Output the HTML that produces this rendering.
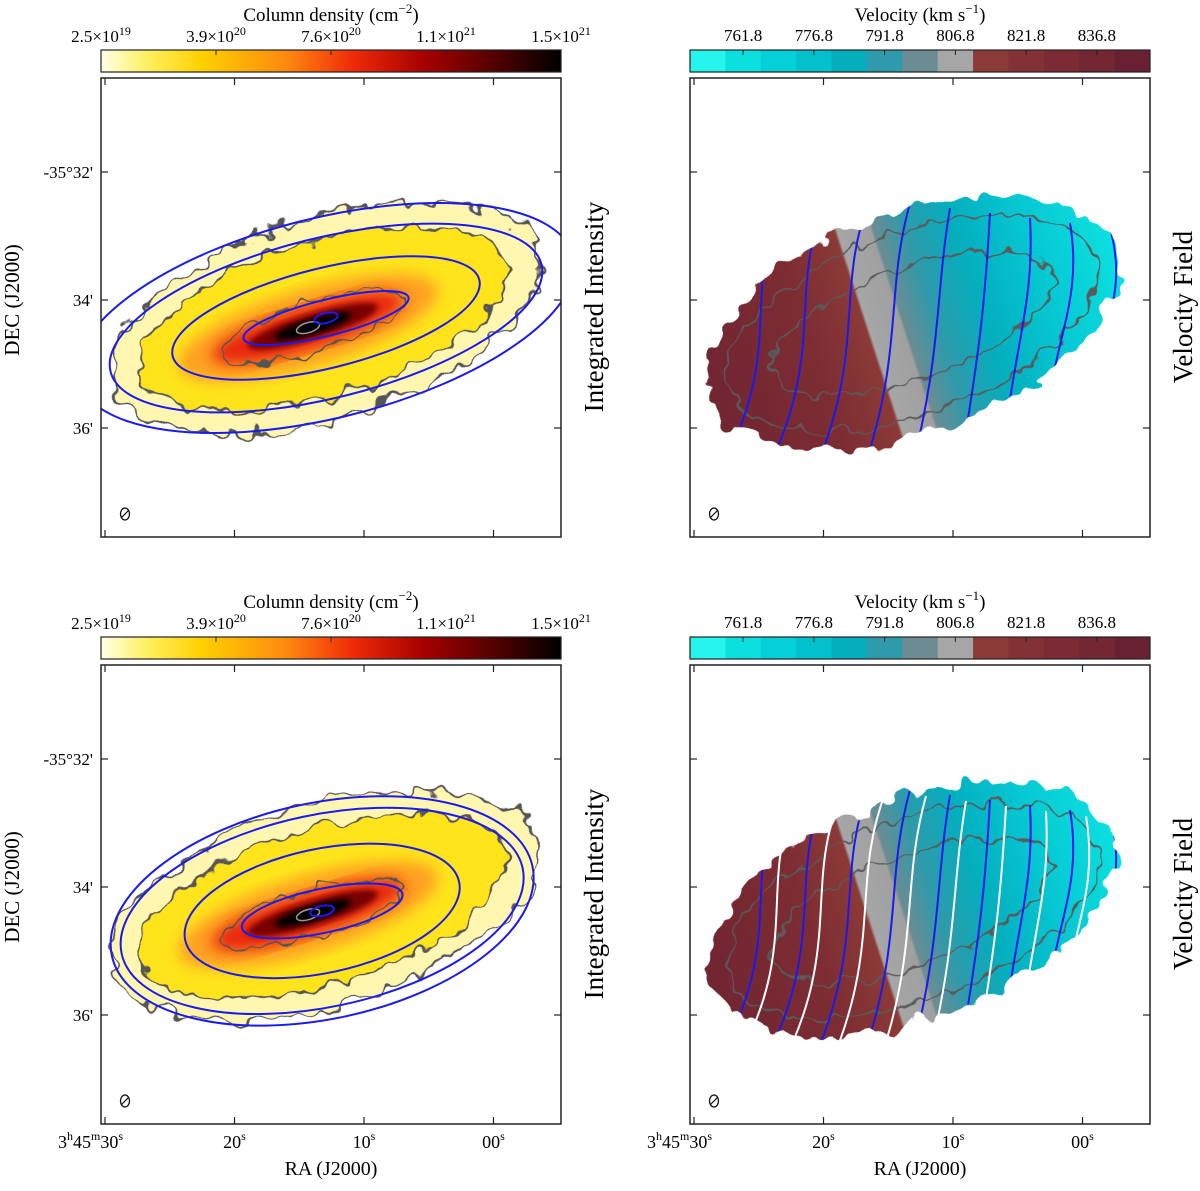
<!DOCTYPE html>
<html><head><meta charset="utf-8"><style>
html,body{margin:0;padding:0;background:#fff;overflow:hidden;width:1200px;height:1191px;}
svg{display:block;font-family:"Liberation Serif",serif;overflow:hidden;}
</style></head><body>
<svg id="fig" width="1200" height="1191" viewBox="0 0 1200 1191" xmlns="http://www.w3.org/2000/svg">
<defs>
<linearGradient id="densGrad" x1="0" x2="1" y1="0" y2="0">
<stop offset="0" stop-color="#ffffe8"/><stop offset="0.1" stop-color="#fff060"/><stop offset="0.22" stop-color="#ffd000"/>
<stop offset="0.4" stop-color="#ff8a10"/><stop offset="0.55" stop-color="#ee2a08"/><stop offset="0.7" stop-color="#a80000"/>
<stop offset="0.85" stop-color="#560000"/><stop offset="1" stop-color="#000"/></linearGradient>
<filter id="rough" x="-20%" y="-30%" width="140%" height="160%"><feTurbulence type="fractalNoise" baseFrequency="0.045" numOctaves="2" seed="4" result="n"/><feDisplacementMap in="SourceGraphic" in2="n" scale="30" xChannelSelector="R" yChannelSelector="G"/></filter>
<filter id="rough2" x="-20%" y="-30%" width="140%" height="160%"><feTurbulence type="fractalNoise" baseFrequency="0.05" numOctaves="2" seed="9" result="n"/><feDisplacementMap in="SourceGraphic" in2="n" scale="22" xChannelSelector="R" yChannelSelector="G"/></filter>
<filter id="blur6"><feGaussianBlur stdDeviation="7"/></filter>
<filter id="blur3"><feGaussianBlur stdDeviation="3"/></filter>
<linearGradient id="velGrad" x1="0" x2="1" y1="0" y2="0">
<stop offset="0" stop-color="#6a2230"/><stop offset="0.3" stop-color="#7d2c33"/><stop offset="0.4" stop-color="#8b3a37"/>
<stop offset="0.405" stop-color="#a6a6a6"/><stop offset="0.46" stop-color="#a0a0a0"/><stop offset="0.465" stop-color="#6b8c93"/>
<stop offset="0.52" stop-color="#2e9aab"/><stop offset="0.6" stop-color="#04aebd"/><stop offset="0.72" stop-color="#06c8d3"/>
<stop offset="0.85" stop-color="#0ce0df"/><stop offset="1" stop-color="#25f0ea"/></linearGradient>
</defs>
<g id="root"></g>
</svg>
<script>
const NS='http://www.w3.org/2000/svg';
const densLabels=['2.5×10','3.9×10','7.6×10','1.1×10','1.5×10'];
const densExp=['19','20','20','21','21'];
const velLabels=['761.8','776.8','791.8','806.8','821.8','836.8'];
const velColors=['#25f5ec','#0ce0df','#06d0d7','#03c1cc','#04aebd','#2e9aab','#6b8c93','#a6a6a6','#8b3a37','#833134','#7c2a33','#742633','#6a2033'];
const raLabels=['30','20','10','00'];
const decLabels=['-35°32\'','34\'','36\''];
const root=document.getElementById('root');
function el(tag,attrs,parent,txt){const e=document.createElementNS(NS,tag);for(const k in attrs)e.setAttribute(k,attrs[k]);if(txt!==undefined)e.textContent=txt;(parent||root).appendChild(e);return e;}
const PW=460, PH=459;
function raX(x0,i){return x0+4+i*129.5;}
function decY(y0,i){return y0+94+i*128;}
function frame(x0,y0,name){
  const g=el('g',{});
  
  
  el('rect',{x:x0,y:y0,width:PW,height:PH,fill:'none',stroke:'#222','stroke-width':1.5},g);
  for(let i=0;i<raLabels.length;i++){const x=raX(x0,i);
    el('line',{x1:x,x2:x,y1:y0,y2:y0+7,stroke:'#222','stroke-width':1.2},g);
    el('line',{x1:x,x2:x,y1:y0+PH,y2:y0+PH-7,stroke:'#222','stroke-width':1.2},g);}
  for(let i=0;i<decLabels.length;i++){const y=decY(y0,i);
    el('line',{x1:x0,x2:x0+7,y1:y,y2:y,stroke:'#222','stroke-width':1.2},g);
    el('line',{x1:x0+PW,x2:x0+PW-7,y1:y,y2:y,stroke:'#222','stroke-width':1.2},g);}
  el('ellipse',{cx:x0+24,cy:y0+436,rx:4.5,ry:6,fill:'none',stroke:'#111','stroke-width':1.3},g);
  el('line',{x1:x0+20,y1:y0+440,x2:x0+28,y2:y0+432,stroke:'#111','stroke-width':1.2},g);
  return g;
}
function decLabelsDraw(x0,y0){
  for(let i=0;i<decLabels.length;i++){const t=el('text',{x:x0-8,y:decY(y0,i)+6,'text-anchor':'end','font-size':17},root,decLabels[i]);
  }
  const t=el('text',{transform:`translate(${x0-82},${y0+222}) rotate(-90)`,'text-anchor':'middle','font-size':21},root,'DEC (J2000)');
  
}
function raLabelsDraw(x0,y0){
  for(let i=0;i<raLabels.length;i++){const x=raX(x0,i);
    const t=el('text',{x:x,y:y0+PH+24,'text-anchor':'middle','font-size':18});
    
    if(i===0){t.setAttribute('text-anchor','end');t.setAttribute('x',x+18);
      el('tspan',{},t,'3');el('tspan',{'font-size':12,dy:-8},t,'h');el('tspan',{dy:8},t,'45');el('tspan',{'font-size':12,dy:-8},t,'m');el('tspan',{dy:8},t,'30');el('tspan',{'font-size':12,dy:-8},t,'s');}
    else{el('tspan',{},t,raLabels[i]);el('tspan',{'font-size':12,dy:-8},t,'s');}
  }
}
function densBar(x0,y0){
  const g=el('g',{});
  
  el('rect',{x:x0,y:y0,width:PW,height:22,fill:'url(#densGrad)',stroke:'#222','stroke-width':1.2},g);
  for(let i=0;i<densLabels.length;i++){const x=x0+i*115;
    if(i>0&&i<4)el('line',{x1:x,x2:x,y1:y0,y2:y0+5,stroke:'#222'},g);
    const t=el('text',{x:x,y:y0-8,'text-anchor':'middle','font-size':17},g);
    
    el('tspan',{},t,densLabels[i]);el('tspan',{'font-size':12,dy:-7},t,densExp[i]);}
  const t=el('text',{x:x0+230,y:y0-29,'text-anchor':'middle','font-size':19},g);
  
  el('tspan',{},t,'Column density (cm');el('tspan',{'font-size':13,dy:-8},t,'−2');el('tspan',{dy:8},t,')');
}
function velBar(x0,y0){
  const g=el('g',{});
  
  const w=PW/velColors.length;
  for(let i=0;i<velColors.length;i++){const r=el('rect',{x:x0+i*w,y:y0,width:w+0.5,height:22,fill:velColors[i]},g);
    }
  el('rect',{x:x0,y:y0,width:PW,height:22,fill:'none',stroke:'#222','stroke-width':1.2},g);
  for(let i=0;i<velLabels.length;i++){const x=x0+1.5*w+i*2*w;
    el('line',{x1:x,x2:x,y1:y0,y2:y0+5,stroke:'#222'},g);
    const t=el('text',{x:x,y:y0-9,'text-anchor':'middle','font-size':17},g,velLabels[i]);
    }
  const t=el('text',{x:x0+230,y:y0-29,'text-anchor':'middle','font-size':19},g);
  
  el('tspan',{},t,'Velocity (km s');el('tspan',{'font-size':13,dy:-8},t,'−1');el('tspan',{dy:8},t,')');
}
function intensity(x0,y0,bottom){
  const g=el('g',{});
  
  const cx=x0+225, cy=y0+240;
  const gal=el('g',{transform:`rotate(-17 ${cx} ${cy})`},g);
  el('ellipse',{cx:cx,cy:cy,rx:222,ry:100,fill:'#fff6b0',stroke:'#555','stroke-width':2,filter:'url(#rough)'},gal);
  el('ellipse',{cx:cx-3,cy:cy,rx:190,ry:78,fill:'#ffe41a',stroke:'#555','stroke-width':2,filter:'url(#rough2)'},gal);
  el('ellipse',{cx:cx-20,cy:cy+4,rx:135,ry:38,fill:'#ffa020',filter:'url(#blur6)'},gal);
  el('ellipse',{cx:cx-20,cy:cy+4,rx:100,ry:22,fill:'#e82808',filter:'url(#blur6)'},gal);
  el('ellipse',{cx:cx-15,cy:cy+4,rx:68,ry:13,fill:'#780000',filter:'url(#blur3)'},gal);
  el('ellipse',{cx:cx-15,cy:cy+4,rx:40,ry:8,fill:'#000',filter:'url(#blur3)'},gal);
  el('ellipse',{cx:cx-15,cy:cy+4,rx:95,ry:24,fill:'none',stroke:'#555','stroke-width':1.8,filter:'url(#rough2)'},gal);
  el('ellipse',{cx:cx-20,cy:cy+4,rx:12,ry:5,fill:'none',stroke:'#999','stroke-width':1.5},gal);
  const cl=el('clipPath',{id:'clipL'+y0},g);el('rect',{x:x0,y:y0,width:PW,height:PH},cl);
  const bl=el('g',{'clip-path':`url(#clipL${y0})`},g);
  
  const rot=bottom?-12:-14, sets=bottom?[[215,108],[205,96],[140,62],[82,22],[12,5]]:[[255,100],[222,80],[158,50],[85,18],[12,5]];
  for(const [a,b] of sets)el('ellipse',{cx:cx+(bottom?-5:0),cy:cy+(bottom?5:0),rx:a,ry:b,fill:'none',stroke:'#1a1aee','stroke-width':2,transform:`rotate(${rot} ${cx} ${cy})`},bl);
}
function velocity(x0,y0,bottom){
  const g=el('g',{});
  
  const cx=x0+222, cy=y0+245;
  const m=el('mask',{id:'maskV'+y0,maskUnits:'userSpaceOnUse',x:x0,y:y0,width:PW,height:PH},g);
  el('ellipse',{cx:cx,cy:cy,rx:215,ry:110,fill:'#fff',transform:`rotate(-20 ${cx} ${cy})`,filter:'url(#rough)'},m);
  const inner=el('g',{mask:`url(#maskV${y0})`},g);
  el('rect',{x:x0-60,y:y0-60,width:PW+120,height:PH+120,fill:'url(#velGrad)',transform:`rotate(-18 ${x0+PW/2} ${y0+PH/2})`},inner);
  el('ellipse',{cx:cx,cy:cy,rx:150,ry:55,fill:'none',stroke:'#5a5a5a','stroke-width':1.8,transform:`rotate(-20 ${cx} ${cy})`,filter:'url(#rough2)'},inner);
  el('ellipse',{cx:cx,cy:cy,rx:195,ry:90,fill:'none',stroke:'#5a5a5a','stroke-width':1.8,transform:`rotate(-20 ${cx} ${cy})`,filter:'url(#rough2)'},inner);
  const n=10;
  for(let k=0;k<n;k++){
    const xt=x0+100+k*40, yt=y0+110+k*5, xb=x0+30+k*42+(k<5?k*6:30), yb=y0+390;
    const bend=(k-4.5)*10;
    const d=`M${xt},${yt} C${xt+bend-10},${yt+90} ${xb-bend+25},${yb-120} ${xb},${yb}`;
    const p=el('path',{d:d,fill:'none',stroke:'#1a1aee','stroke-width':2},inner);
    
    if(bottom){const q=el('path',{d:d,fill:'none',stroke:'#fff','stroke-width':2,transform:'translate(16 6)'},inner);
      }
  }
}
function sideLabel(x,y,txt,name){const t=el('text',{transform:`translate(${x},${y}) rotate(-90)`,'text-anchor':'middle','font-size':27},root,txt);
  }
for(const [row,dy] of [[0,0],[1,587]]){
  const fy=78+dy;
  densBar(101,50+dy); velBar(690,50+dy);
  intensity(101,fy,row===1); velocity(690,fy,row===1);
  frame(101,fy,'intensity-frame'); frame(690,fy,'velocity-frame');
  decLabelsDraw(101,fy);
  sideLabel(603,fy+229,'Integrated Intensity','intensity-panel-label');
  sideLabel(1192,fy+229,'Velocity Field','velocity-panel-label');
  if(row===1){raLabelsDraw(101,fy);raLabelsDraw(690,fy);
    for(const x of [331,920]){const t=el('text',{x:x,y:1175,'text-anchor':'middle','font-size':20},root,'RA (J2000)');
      }}
}
</script>
</body></html>
